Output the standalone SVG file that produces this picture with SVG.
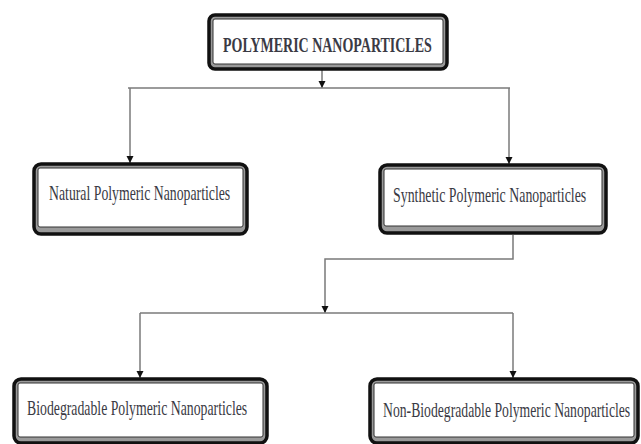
<svg xmlns="http://www.w3.org/2000/svg" width="641" height="444" viewBox="0 0 641 444">
<style>
.outer{fill:#9a9a9a;stroke:#111;stroke-width:3.5}
.inner{fill:#fff;stroke:#333;stroke-width:1}
.t{font-family:"Liberation Serif","Times New Roman",serif;fill:#3a3a44;font-size:21px}
.tb{font-weight:bold;font-size:22px}
.c{fill:none;stroke:#7a7a7a;stroke-width:1.5}
</style>
<defs>
<marker id="ah" markerUnits="userSpaceOnUse" markerWidth="8" markerHeight="8" refX="7" refY="4" orient="auto" viewBox="0 0 8 8">
<path d="M0,0.5 L7,4 L0,7.5 Z" fill="#111"/>
</marker>
</defs>
<rect width="641" height="444" fill="#fff"/>
<g id="connectors">
<path class="c" d="M322,70 V88" marker-end="url(#ah)"/>
<path class="c" d="M128,88 H510"/>
<path class="c" d="M130,88 V163" marker-end="url(#ah)"/>
<path class="c" d="M509,88 V164" marker-end="url(#ah)"/>
<path class="c" d="M513,235 V259 H325 V313" marker-end="url(#ah)"/>
<path class="c" d="M140,313 H513"/>
<path class="c" d="M140,313 V378" marker-end="url(#ah)"/>
<path class="c" d="M513,313 V378" marker-end="url(#ah)"/>
</g>
<g id="n-polymeric">
<rect class="outer" x="209" y="15" width="238" height="54" rx="6"/>
<rect class="inner" x="213" y="19" width="230" height="45" rx="2"/>
<g transform="translate(223,52) scale(0.6,1)">
<text class="t tb" x="0" y="0" textLength="348" lengthAdjust="spacingAndGlyphs">POLYMERIC NANOPARTICLES</text>
</g>
</g>
<g id="n-natural">
<rect class="outer" x="34" y="164" width="213" height="70" rx="7"/>
<rect class="inner" x="38" y="168" width="205" height="59" rx="2"/>
<g transform="translate(49,200) scale(0.6,1)">
<text class="t" x="0" y="0" textLength="302" lengthAdjust="spacingAndGlyphs">Natural Polymeric Nanoparticles</text>
</g>
</g>
<g id="n-synthetic">
<rect class="outer" x="380" y="165" width="226" height="68" rx="7"/>
<rect class="inner" x="384" y="169" width="218" height="57" rx="2"/>
<g transform="translate(393,202) scale(0.6,1)">
<text class="t" x="0" y="0" textLength="322" lengthAdjust="spacingAndGlyphs">Synthetic Polymeric Nanoparticles</text>
</g>
</g>
<g id="n-biodegradable">
<rect class="outer" x="14" y="379" width="253" height="64" rx="7"/>
<rect class="inner" x="18" y="383" width="245" height="54" rx="2"/>
<g transform="translate(27,415) scale(0.6,1)">
<text class="t" x="0" y="0" textLength="367" lengthAdjust="spacingAndGlyphs">Biodegradable Polymeric Nanoparticles</text>
</g>
</g>
<g id="n-nonbiodegradable">
<rect class="outer" x="370" y="379" width="268" height="64" rx="7"/>
<rect class="inner" x="374" y="383" width="260" height="54" rx="2"/>
<g transform="translate(383,417) scale(0.6,1)">
<text class="t" x="0" y="0" textLength="412" lengthAdjust="spacingAndGlyphs">Non-Biodegradable Polymeric Nanoparticles</text>
</g>
</g>
</svg>
